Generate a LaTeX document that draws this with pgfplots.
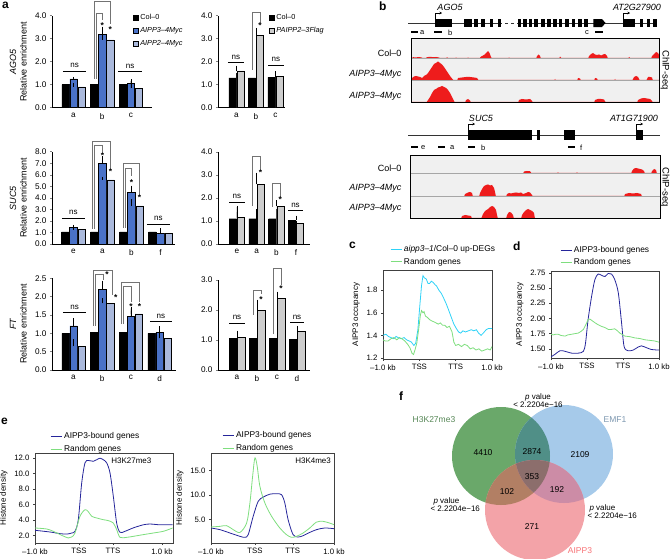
\documentclass[border=0pt]{standalone}
\usepackage{fontspec}
\setmainfont{Liberation Sans}
\usepackage{pgfplots}
\pgfplotsset{compat=1.18}
\usetikzlibrary{arrows.meta}

\newcommand{\fs}[1]{\fontsize{#1}{#1}\selectfont}
\definecolor{c3}{HTML}{4A72C8}
\definecolor{c2}{HTML}{AAB9DC}
\definecolor{cg}{HTML}{CDCDCD}
\definecolor{cyanl}{HTML}{2ED2F7}
\definecolor{greenl}{HTML}{7EDE7E}
\definecolor{navy}{HTML}{25259A}
\definecolor{peak}{HTML}{EE1C1C}
\definecolor{vG}{HTML}{6AA86A}
\definecolor{vB}{HTML}{A6CAEA}
\definecolor{vR}{HTML}{F3A3A8}
\definecolor{vGB}{HTML}{508F87}
\definecolor{vGR}{HTML}{B27F64}
\definecolor{vBR}{HTML}{CC8CA6}
\definecolor{vGBR}{HTML}{8C6E6C}

% significance marks (used inside an axis)
\newcommand{\ns}[3]{\draw[line width=0.7pt] (axis cs:#1,#3) -- node[above=3pt, font=\fs{8}, inner sep=0pt] {ns} (axis cs:#2,#3);}
\newcommand{\brk}[5]{\draw[black!55, line width=0.5pt] (axis cs:#1,#2) |- (axis cs:#3,#5) -- (axis cs:#3,#4);}
\newcommand{\st}[2]{\node[font=\bfseries\fs{8.5}, inner sep=0pt] at (axis cs:#1,#2) {*};}
% exons of the gene models
\newcommand{\exA}[2]{\fill[black] (axis cs:#1,19) rectangle (axis cs:#2,27);}
\newcommand{\exB}[2]{\fill[black] (axis cs:#1,129.5) rectangle (axis cs:#2,139.5);}

\pgfplotsset{
  /pgf/number format/assume math mode=true,
  every axis/.append style={font=\fs{7.5}},
  barax/.style={
    anchor=south west, clip=false, ymin=0,
    axis x line*=bottom, axis y line*=left,
    axis line style={line width=0.5pt},
    tick align=outside, major tick length=2pt,
    xtick style={draw=none}, ytick style={line width=0.5pt},
    tick label style={font=\fs{8.2}},
    yticklabel style={/pgf/number format/.cd, fixed, fixed zerofill, precision=1},
    legend style={draw=none, fill=none, inner sep=0pt, outer sep=0pt, font=\fs{7.3},
      row sep=2.6pt, anchor=north west},
    legend cell align=left,
    legend image code/.code={\draw[line width=0.4pt,##1] (0pt,-2.3pt) rectangle (5pt,2.3pt);},
  },
  bL/.style={ybar, bar width=0.26, draw=black, line width=0.4pt, forget plot,
    error bars/y dir=plus, error bars/y explicit,
    error bars/error bar style={black, line width=0.4pt},
    error bars/error mark options={black, mark size=1.3pt, line width=0.4pt}},
  bR/.style={bL, bar width=0.37},
  lineax/.style={
    anchor=north west, scale only axis, tick pos=left, tick align=outside,
    major tick length=2pt,
    axis line style={black!75, line width=0.4pt},
    tick style={black!75, line width=0.4pt},
    tick label style={font=\fs{7.8}}, label style={font=\fs{8}},
    legend style={draw=none, fill=none, font=\fs{8.4}, anchor=north west,
      inner sep=0pt, row sep=1pt},
    legend cell align=left,
    legend image code/.code={\draw[##1] (0pt,0pt) -- (11pt,0pt);},
    every axis plot/.append style={line width=0.8pt, no marks},
  },
  trk/.style={anchor=south west, x=1pt, y=1pt, ymin=1,
    axis line style={draw=none}, ticks=none,
    axis background/.style={fill=black!6}},
}

\begin{document}
\begin{tikzpicture}
\useasboundingbox (0pt,0pt) rectangle (670pt,-559pt);

% ---------------- panel a, AGO5 ----------------
\begin{axis}[barax, at={(52pt,-107.7pt)}, x=28.7pt, y=23pt, xmin=-0.75, xmax=2.73,
  ymax=4, ytick={0,1,2,3,4}, xtick={0,1,2}, xticklabels={a,b,c},
  legend style={at={(0.81,1.04)}}]
\addlegendimage{fill=black}\addlegendentry{Col–0}
\addlegendimage{fill=c3}\addlegendentry{\textit{AIPP3–4Myc}}
\addlegendimage{fill=c2}\addlegendentry{\textit{AIPP2–4Myc}}
\addplot[bL, fill=black, bar shift=-0.28] coordinates {(0,1.00) +- (0,0.13) (1,1.03) +- (0,0.08) (2,1.02) +- (0,0.15)};
\addplot[bL, fill=c3, bar shift=0] coordinates {(0,1.25) +- (0,0.03) (1,3.20) +- (0,0.27) (2,1.07) +- (0,0.10)};
\addplot[bL, fill=c2, bar shift=0.28] coordinates {(0,0.90) +- (0,0.12) (1,2.95) +- (0,0.30) (2,0.85) +- (0,0.17)};
\ns{-0.37}{0.44}{1.6}
\ns{1.55}{2.39}{1.57}
\brk{0.72}{1.25}{1.28}{3.62}{4.64}
\brk{0.78}{1.25}{1.0}{3.8}{4.1}
\st{1.0}{3.55}
\st{1.28}{3.38}
\end{axis}

\begin{axis}[barax, at={(218pt,-107.7pt)}, x=19.5pt, y=23pt, xmin=-0.95, xmax=2.49,
  ymax=4, ytick={0,1,2,3,4}, xtick={0,1,2}, xticklabels={a,b,c},
  legend style={at={(0.76,1.04)}}]
\addlegendimage{fill=black}\addlegendentry{Col–0}
\addlegendimage{fill=cg}\addlegendentry{\textit{PAIPP2–3Flag}}
\addplot[bR, fill=black, bar shift=-0.205] coordinates {(0,1.30) +- (0,0.15) (1,1.30) +- (0,0.20) (2,1.32) +- (0,0.20)};
\addplot[bR, fill=cg, bar shift=0.205] coordinates {(0,1.60) +- (0,0.17) (1,3.16) +- (0,0.25) (2,1.35) +- (0,0.05)};
\ns{-0.44}{0.38}{1.96}
\ns{1.62}{2.41}{1.86}
\brk{0.8}{1.65}{1.2}{3.7}{4.13}
\st{1.2}{3.55}
\end{axis}

% ---------------- panel a, SUC5 ----------------
\begin{axis}[barax, at={(52pt,-244pt)}, x=29pt, y=11.54pt, xmin=-0.74, xmax=3.5,
  ymax=8, ytick={0,1,...,8}, xtick={0,1,2,3}, xticklabels={e,a,b,f}]
\addplot[bL, fill=black, bar shift=-0.28] coordinates {(0,1.05) +- (0,0.10) (1,1.05) +- (0,0.05) (2,1.05) +- (0,0.10) (3,1.05) +- (0,0.20)};
\addplot[bL, fill=c3, bar shift=0] coordinates {(0,1.45) +- (0,0.10) (1,7.00) +- (0,0.50) (2,4.50) +- (0,0.45) (3,0.90) +- (0,0.05)};
\addplot[bL, fill=c2, bar shift=0.28] coordinates {(0,1.25) +- (0,0.30) (1,5.55) +- (0,0.15) (2,3.30) +- (0,0.45) (3,0.95) +- (0,0.05)};
\ns{-0.4}{0.4}{2.25}
\ns{2.53}{3.33}{1.7}
\brk{0.66}{1.3}{1.28}{6.55}{8.87}
\brk{0.72}{1.3}{1.0}{7.95}{8.6}
\st{1.0}{7.7}
\st{1.28}{6.25}
\brk{1.72}{1.4}{2.28}{4.3}{7.0}
\brk{1.78}{1.4}{2.0}{5.85}{6.56}
\st{2.0}{5.35}
\st{2.28}{4.05}
\end{axis}

\begin{axis}[barax, at={(218pt,-244pt)}, x=19.7pt, y=23pt, xmin=-0.96, xmax=3.7,
  ymax=4, ytick={0,1,2,3,4}, xtick={0,1,2,3}, xticklabels={e,a,b,f}]
\addplot[bR, fill=black, bar shift=-0.205] coordinates {(0,1.10) +- (0,0.50) (1,1.10) +- (0,0.35) (2,1.10) +- (0,0.35) (3,1.03) +- (0,0.15)};
\addplot[bR, fill=cg, bar shift=0.205] coordinates {(0,1.15) +- (0,0.25) (1,2.60) +- (0,0.45) (2,1.65) +- (0,0.20) (3,0.90) +- (0,0.05)};
\ns{-0.4}{0.4}{1.82}
\ns{2.6}{3.35}{1.45}
\brk{0.8}{1.65}{1.2}{3.25}{3.81}
\st{1.2}{3.1}
\brk{1.8}{1.6}{2.2}{2.05}{2.62}
\st{2.2}{1.95}
\end{axis}

% ---------------- panel a, FT ----------------
\begin{axis}[barax, at={(52pt,-370pt)}, x=28.7pt, y=36.7pt, xmin=-0.75, xmax=3.57,
  ymax=2.5, ytick={0,0.5,...,2.5}, xtick={0,1,2,3}, xticklabels={a,b,c,d}]
\addplot[bL, fill=black, bar shift=-0.28] coordinates {(0,1.00) +- (0,0.37) (1,1.03) +- (0,0.08) (2,1.02) +- (0,0.15) (3,1.00) +- (0,0.10)};
\addplot[bL, fill=c3, bar shift=0] coordinates {(0,1.20) +- (0,0.15) (1,2.20) +- (0,0.20) (2,1.47) +- (0,0.15) (3,1.03) +- (0,0.03)};
\addplot[bL, fill=c2, bar shift=0.28] coordinates {(0,0.65) +- (0,0.15) (1,1.82) +- (0,0.10) (2,1.53) +- (0,0.15) (3,0.86) +- (0,0.30)};
\ns{-0.37}{0.44}{1.56}
\ns{2.66}{3.43}{1.32}
\brk{0.68}{1.2}{1.35}{2.05}{2.73}
\brk{0.74}{1.2}{1.05}{2.45}{2.62}
\st{1.17}{2.6}
\st{1.47}{1.96}
\brk{1.68}{1.25}{2.3}{1.86}{2.38}
\brk{1.74}{1.25}{2.0}{1.86}{2.27}
\st{2.0}{1.72}
\st{2.3}{1.74}
\end{axis}

\begin{axis}[barax, at={(218pt,-370pt)}, x=20pt, y=30pt, xmin=-0.95, xmax=3.65,
  ymax=3, ytick={0,1,2,3}, xtick={0,1,2,3}, xticklabels={a,b,c,d}]
\addplot[bR, fill=black, bar shift=-0.205] coordinates {(0,1.05) +- (0,0.17) (1,1.05) +- (0,0.70) (2,1.05) +- (0,0.02) (3,1.03) +- (0,0.10)};
\addplot[bR, fill=cg, bar shift=0.205] coordinates {(0,1.10) +- (0,0.17) (1,2.00) +- (0,0.30) (2,2.40) +- (0,0.17) (3,1.30) +- (0,0.13)};
\ns{-0.4}{0.4}{1.56}
\ns{2.65}{3.35}{1.58}
\brk{0.8}{1.85}{1.2}{2.52}{2.67}
\st{1.2}{2.36}
\brk{1.8}{1.2}{2.2}{2.82}{3.4}
\st{2.2}{2.7}
\end{axis}

% ---------------- panel b, ChIP-seq tracks ----------------
\begin{axis}[trk, at={(411pt,-58pt)}, xmin=411, xmax=659, ymax=20]
\addplot[fill=peak, draw=none] coordinates {(411,0)(413,1.8)(416,1.6)(419,2.0)(422,1.4)(424,0)(427,1.8)(430,2.2)(433,1.8)(436,2.0)(439,1.5)(441,0)(446,0)(447,1.8)(449,0)(455,0)(456,1.6)(458,0)(466,0)(468,1.5)(470,0)(479,0)(481,2.5)(484,4)(486,6)(488,8)(489.5,6)(491,2)(492,0)(508,0)(509,1.6)(511,0)(536,0)(537,3)(538.5,4.5)(540,3)(541,0)(559,0)(560,2.5)(562,0)(588,0)(589,3)(591,5)(593,6)(595,4.5)(597,4)(599,4.5)(601,3.5)(603,4.5)(605,5)(607,3)(608,0)(628,0)(629,2)(631,0)(651,0)(652,3)(654,5)(656,7)(658,6)(659,4)} \closedcycle;
\end{axis}
\begin{axis}[trk, at={(411pt,-80pt)}, xmin=411, xmax=659, ymax=22]
\addplot[fill=peak, draw=none] coordinates {(411,0)(412,3)(414,4.5)(416,5)(418,4.5)(420,4)(422,3)(424,5)(426,6)(428,8)(430,11)(432,14)(434,17)(436,18)(438,19.5)(440,18)(442,16.5)(444,14)(446,11)(448,8)(450,5)(452,2.5)(454,0)(457,0)(458,3)(462,3.5)(466,4)(470,4)(474,3.5)(477,3)(479,0)(554,0)(555,2)(556,0)(577,0)(578,3)(580,2.5)(581,0)(594,0)(595,3)(597,2.5)(598,0)(614,0)(615,2)(616,0)(632,0)(634,4)(636,5)(638,4)(640,0)(646,0)(648,4)(650,4)(652,3.5)(653,0)(659,0)} \closedcycle;
\end{axis}
\begin{axis}[trk, at={(411pt,-102pt)}, xmin=411, xmax=659, ymax=22]
\addplot[fill=peak, draw=none] coordinates {(411,0)(426,0)(428,3)(430,6)(432,10)(434,13)(436,14)(438,15.5)(440,16)(442,17)(444,16)(446,15)(448,13)(450,10)(452,6)(454,2)(455,0)(465,0)(466,3)(468,4)(470,2.5)(471,0)(518,0)(519,3)(522,4)(526,3.5)(530,4)(532,2)(533,0)(594,0)(595,3)(598,4)(601,4)(604,3.5)(606,0)(637,0)(638,3)(641,4.5)(644,5)(647,4.5)(650,4)(652,2)(653,0)(659,0)} \closedcycle;
\end{axis}

\begin{axis}[trk, at={(410pt,-173pt)}, xmin=410, xmax=660, ymax=18]
\addplot[fill=peak, draw=none] coordinates {(523,0)(524,2.5)(527,3)(530,2.8)(532,0)(557,0)(558,1.8)(559,0)(576,0)(577,1.8)(578,0)(631,0)(632,3)(634,5.5)(636,6)(638,5.5)(640,5)(642,4.5)(644,3)(645,0)(651,0)(652,3)(654,5)(656,4)(657,0)} \closedcycle;
\end{axis}
\begin{axis}[trk, at={(410pt,-196pt)}, xmin=410, xmax=660, ymax=23]
\addplot[fill=peak, draw=none] coordinates {(464,0)(465,3)(468,4.5)(470,5)(472,4)(473,0)(479,0)(480,4)(482,8)(484,11)(486,12)(488,12.5)(490,11.5)(492,12)(494,9)(495,5)(496,0)(506,0)(507,3)(509,4)(511,3.5)(513,4)(516,4.5)(519,4)(521,4.5)(523,3)(526,4)(528,5)(530,4.5)(532,2)(533,0)(624,0)(625,3)(629,4)(633,3.5)(637,4)(641,3)(642,0)} \closedcycle;
\end{axis}
\begin{axis}[trk, at={(410pt,-218pt)}, xmin=410, xmax=660, ymax=22]
\addplot[fill=peak, draw=none] coordinates {(461,0)(462,3)(465,4)(468,3.5)(471,3)(472,0)(481,0)(483,5)(485,8)(488,10)(490,12)(492,13)(494,12)(496,9)(497,4)(498,0)(506,0)(507,4)(509,7)(511,6.5)(513,4)(514,0)(521,0)(522,4)(524,7)(526,9)(528,10)(530,9)(532,8)(534,6)(535,0)} \closedcycle;
\end{axis}

% ---------------- panel c ----------------
\begin{axis}[lineax, at={(383pt,-270pt)}, width=109pt, height=89pt,
  xmin=0, xmax=3, ymin=1.19, ymax=1.98,
  xtick={0,1,2,3}, xticklabels={–1.0 kb,TSS,TTS,1.0 kb},
  ytick={1.2,1.4,1.6,1.8},
  yticklabel style={/pgf/number format/.cd, fixed, fixed zerofill, precision=1},
  ylabel={AIPP3 occupancy}, legend style={at={(0.064,1.3)}}]
\addplot[color=cyanl] coordinates {(0.00,1.40)(0.08,1.41)(0.15,1.39)(0.22,1.38)(0.30,1.37)(0.36,1.39)(0.42,1.38)(0.50,1.37)(0.58,1.38)(0.65,1.36)(0.72,1.35)(0.78,1.34)(0.85,1.31)(0.90,1.33)(0.96,1.45)(1.01,1.65)(1.06,1.84)(1.10,1.93)(1.14,1.91)(1.19,1.90)(1.24,1.86)(1.28,1.86)(1.33,1.88)(1.38,1.87)(1.43,1.85)(1.47,1.84)(1.54,1.80)(1.61,1.77)(1.67,1.73)(1.74,1.68)(1.80,1.63)(1.88,1.56)(1.95,1.50)(2.02,1.46)(2.08,1.43)(2.14,1.42)(2.20,1.44)(2.27,1.43)(2.35,1.44)(2.43,1.45)(2.50,1.44)(2.57,1.45)(2.63,1.42)(2.70,1.40)(2.76,1.42)(2.84,1.45)(2.90,1.46)(3.00,1.46)};
\addlegendentry{\textit{aipp3–1}/Col–0 up-DEGs}
\addplot[color=greenl] coordinates {(0.00,1.36)(0.06,1.35)(0.14,1.35)(0.22,1.37)(0.30,1.38)(0.38,1.36)(0.45,1.38)(0.52,1.37)(0.60,1.35)(0.68,1.32)(0.74,1.29)(0.80,1.24)(0.84,1.23)(0.88,1.27)(0.93,1.33)(0.98,1.45)(1.03,1.58)(1.06,1.62)(1.10,1.60)(1.13,1.61)(1.17,1.57)(1.22,1.56)(1.28,1.54)(1.33,1.53)(1.40,1.52)(1.46,1.51)(1.52,1.50)(1.58,1.51)(1.64,1.49)(1.70,1.49)(1.76,1.47)(1.83,1.48)(1.90,1.43)(1.95,1.34)(2.00,1.31)(2.08,1.32)(2.16,1.30)(2.24,1.32)(2.32,1.31)(2.40,1.28)(2.48,1.29)(2.56,1.27)(2.64,1.28)(2.72,1.26)(2.80,1.27)(2.88,1.28)(2.95,1.27)(3.00,1.30)};
\addlegendentry{Random genes}
\end{axis}

% ---------------- panel d ----------------
\begin{axis}[lineax, at={(551pt,-271pt)}, width=108pt, height=87pt,
  xmin=0, xmax=3, ymin=1.35, ymax=2.78,
  xtick={0,1,2,3}, xticklabels={–1.0 kb,TSS,TTS,1.0 kb},
  ytick={1.5,1.75,2,2.25,2.5,2.75},
  yticklabel style={/pgf/number format/.cd, fixed, fixed zerofill, precision=2},
  ylabel={AIPP3 occupancy}, legend style={at={(0.083,1.31)}}]
\addplot[navy, smooth] coordinates {(0,1.37)(0.11,1.41)(0.25,1.47)(0.39,1.46)(0.57,1.43)(0.76,1.43)(0.90,1.46)(0.96,1.60)(1.03,1.98)(1.13,2.37)(1.22,2.64)(1.31,2.73)(1.40,2.71)(1.50,2.69)(1.59,2.74)(1.68,2.73)(1.77,2.64)(1.87,2.42)(1.96,1.93)(2.03,1.54)(2.14,1.47)(2.28,1.48)(2.42,1.53)(2.51,1.55)(2.65,1.52)(2.79,1.49)(3.00,1.48)};
\addlegendentry{AIPP3-bound genes}
\addplot[greenl] coordinates {(0,1.74)(0.06,1.73)(0.13,1.74)(0.20,1.74)(0.28,1.72)(0.39,1.71)(0.47,1.73)(0.57,1.74)(0.66,1.75)(0.76,1.76)(0.84,1.79)(0.90,1.82)(0.97,1.90)(1.03,1.98)(1.08,1.99)(1.15,1.96)(1.22,1.93)(1.30,1.90)(1.40,1.87)(1.50,1.85)(1.59,1.82)(1.68,1.82)(1.77,1.83)(1.84,1.80)(1.91,1.76)(2.05,1.71)(2.20,1.70)(2.33,1.68)(2.47,1.67)(2.60,1.65)(2.74,1.64)(2.88,1.63)(3.00,1.61)};
\addlegendentry{Random genes}
\end{axis}

% ---------------- panel e ----------------
\begin{axis}[lineax, at={(35pt,-453pt)}, width=137.7pt, height=90pt,
  xmin=0, xmax=137.7, ymin=1.05, ymax=12.67,
  xtick={0,44,78,127}, xticklabels={–1.0 kb,TSS,TTS,1.0 kb},
  ytick={2,4,...,12},
  yticklabel style={/pgf/number format/.cd, fixed, fixed zerofill, precision=1},
  ylabel={Histone density}, legend style={at={(0.11,1.25)}, font=\fs{8.4}}]
\addplot[navy, smooth] coordinates {(0,2.69)(15,2.47)(25,2.26)(31.7,2.20)(36.7,2.34)(40,2.56)(43.3,4.06)(46.7,8.8)(50,11.4)(53.3,11.7)(58.3,11.6)(61.7,11.8)(65,12.0)(68.3,11.8)(71.7,11.4)(75,10.1)(78.3,7.1)(81.7,3.6)(85,2.43)(90,2.56)(98.3,3.0)(108.3,3.4)(115,3.5)(125,3.4)(137.7,3.4)};
\addlegendentry{AIPP3-bound genes}
\addplot[greenl, smooth] coordinates {(0,2.99)(11.7,2.86)(18.3,2.56)(26.7,2.04)(33.3,1.70)(36.7,1.83)(40,2.34)(45,4.5)(50,5.35)(53.3,5.1)(56.7,4.5)(61.7,4.28)(68.3,4.06)(73.3,3.94)(78.3,3.63)(81.7,2.77)(85,1.78)(91.7,1.78)(98.3,1.91)(108.3,2.13)(118.3,2.34)(128.3,2.56)(137.7,2.99)};
\addlegendentry{Random genes}
\node[font=\fs{8}] at (rel axis cs:0.70,0.91) {H3K27me3};
\end{axis}

\begin{axis}[lineax, at={(211pt,-453pt)}, width=123pt, height=90pt,
  xmin=0, xmax=123.3, ymin=0.24, ymax=18.6,
  xtick={0,44,82,123.3}, xticklabels={–1.0 kb,TSS,TTS,1.0 kb},
  ytick={5,10,15},
  yticklabel style={/pgf/number format/.cd, fixed, fixed zerofill, precision=1},
  ylabel={Histone density}, legend style={at={(0.09,1.26)}, font=\fs{8.4}}]
\addplot[navy, smooth] coordinates {(0,3.3)(9,2.96)(19,2.28)(29,1.6)(34,1.4)(37.3,1.94)(42.3,5.68)(47.3,8.74)(52.3,9.6)(59,10.2)(65.7,10.3)(70.7,10.1)(74,8.4)(77.3,5.0)(82.3,1.94)(87.3,1.46)(92.3,1.73)(99,2.4)(105.7,2.96)(114,3.3)(123.3,3.16)};
\addlegendentry{AIPP3-bound genes}
\addplot[greenl, smooth] coordinates {(0,3.5)(9,3.64)(15.7,3.78)(22.3,2.96)(29,2.4)(35.7,4.3)(39,8.4)(41.7,13.8)(44,17.6)(46.3,15.9)(49,11.8)(54,8.4)(60.7,5.7)(69,3.3)(75.7,1.94)(80.7,1.4)(85.7,1.6)(92.3,2.28)(99,3.3)(105.7,4.5)(112.3,4.66)(119,4.3)(123.3,3.98)};
\addlegendentry{Random genes}
\node[font=\fs{8}] at (rel axis cs:0.83,0.91) {H3K4me3};
\end{axis}

% ---------------- overlay: letters, gene models, Venn ----------------
\begin{axis}[at={(0pt,0pt)}, anchor=north west, x=1pt, y=1pt, xmin=0, xmax=670,
  ymin=0, ymax=559, y dir=reverse, hide axis, clip=false]
% panel letters
\node[font=\bfseries\fs{12}, anchor=north west, inner sep=0pt] at (axis cs:2,2) {a};
\node[font=\bfseries\fs{12}, anchor=north west, inner sep=0pt] at (axis cs:379,2) {b};
\node[font=\bfseries\fs{12}, anchor=north west, inner sep=0pt] at (axis cs:349,242) {c};
\node[font=\bfseries\fs{12}, anchor=north west, inner sep=0pt] at (axis cs:513,242) {d};
\node[font=\bfseries\fs{12}, anchor=north west, inner sep=0pt] at (axis cs:1,418) {e};
\node[font=\bfseries\fs{12}, anchor=north west, inner sep=0pt] at (axis cs:399,392) {f};
% panel a y labels
\node[rotate=90, font=\itshape\fs{9}] at (axis cs:13,62) {AGO5};
\node[rotate=90, font=\fs{9}] at (axis cs:23.5,62) {Relative enrichment};
\node[rotate=90, font=\itshape\fs{9}] at (axis cs:13,198) {SUC5};
\node[rotate=90, font=\fs{9}] at (axis cs:23.5,198) {Relative enrichment};
\node[rotate=90, font=\itshape\fs{9}] at (axis cs:13,324) {FT};
\node[rotate=90, font=\fs{9}] at (axis cs:23.5,324) {Relative enrichment};
% panel b: AGO5 locus
\draw[black!80, line width=0.9pt] (axis cs:408,23) -- (axis cs:502,23);
\draw[black!80, line width=0.9pt] (axis cs:505,23) -- (axis cs:508,23);
\draw[black!80, line width=0.9pt] (axis cs:511,23) -- (axis cs:514,23);
\draw[black!80, line width=0.9pt] (axis cs:517,23) -- (axis cs:657,23);
\exA{435}{452}\exA{464.3}{471.7}\exA{474.3}{478.3}\exA{481}{485}\exA{490}{493.3}\exA{497.7}{501}
\exA{517.7}{521}\exA{523.3}{526.7}\exA{529}{532.3}\exA{534.3}{538.3}\exA{541}{545}\exA{546.7}{550.7}
\exA{553.3}{557.3}\exA{559}{562.3}\exA{565}{569}\exA{571.7}{575}\exA{578.3}{581.7}\exA{584.3}{588.3}
\exA{623.3}{635}\exA{640}{643.3}\exA{646.7}{650}\exA{653.3}{656.7}
\fill[black] (axis cs:593.3,19) -- (axis cs:602,19) -- (axis cs:605.5,23) -- (axis cs:602,27) -- (axis cs:593.3,27) -- cycle;
\draw[line width=0.6pt, -{Stealth[length=2.5pt,width=2.5pt]}] (axis cs:435,19) -- (axis cs:435,13) -- (axis cs:442,13);
\draw[line width=0.6pt, -{Stealth[length=2.5pt,width=2.5pt]}] (axis cs:623.3,19) -- (axis cs:623.3,13) -- (axis cs:630,13);
\node[font=\itshape\fs{9}] at (axis cs:450,7) {AGO5};
\node[font=\itshape\fs{9}] at (axis cs:637,7) {AT2G27900};
\draw[line width=1.2pt] (axis cs:411,32) -- (axis cs:418,32);
\node[font=\fs{7.5}, anchor=west, inner sep=1pt] at (axis cs:419,32.5) {a};
\draw[line width=1.2pt] (axis cs:434,32) -- (axis cs:441.5,32);
\node[font=\fs{7.5}, anchor=west, inner sep=1pt] at (axis cs:447,32.5) {b};
\draw[line width=1.2pt] (axis cs:595,32) -- (axis cs:603,32);
\node[font=\fs{7.5}, anchor=east, inner sep=1pt] at (axis cs:590,32.5) {c};
% track frames and separators
\draw[black!35, line width=0.4pt] (axis cs:411,58) -- (axis cs:659,58);
\draw[black!35, line width=0.4pt] (axis cs:411,80) -- (axis cs:659,80);
\draw[black, line width=0.6pt] (axis cs:411,38) rectangle (axis cs:659,102);
\node[font=\fs{9}, anchor=east] at (axis cs:405,53) {Col–0};
\node[font=\itshape\fs{9}, anchor=east] at (axis cs:405,74) {AIPP3–4Myc};
\node[font=\itshape\fs{9}, anchor=east] at (axis cs:405,96) {AIPP3–4Myc};
\node[font=\fs{9.5}, rotate=-90] at (axis cs:665,70) {ChIP-seq};
% panel b: SUC5 locus
\draw[black!80, line width=0.9pt] (axis cs:408,135) -- (axis cs:660,135);
\exB{468.3}{532.3}\exB{537.3}{540}\exB{564.3}{574.7}\exB{636}{643.3}
\draw[line width=0.6pt, -{Stealth[length=2.5pt,width=2.5pt]}] (axis cs:468.3,129.5) -- (axis cs:468.3,124) -- (axis cs:475,124);
\draw[line width=0.6pt, -{Stealth[length=2.5pt,width=2.5pt]}] (axis cs:636,129.5) -- (axis cs:636,124) -- (axis cs:643,124);
\node[font=\itshape\fs{9}] at (axis cs:481,118) {SUC5};
\node[font=\itshape\fs{9}] at (axis cs:634,118) {AT1G71900};
\draw[line width=1.2pt] (axis cs:411,147) -- (axis cs:418,147);
\node[font=\fs{7.5}, anchor=west, inner sep=1pt] at (axis cs:420,147.5) {e};
\draw[line width=1.2pt] (axis cs:438,147) -- (axis cs:445,147);
\node[font=\fs{7.5}, anchor=west, inner sep=1pt] at (axis cs:449,147.5) {a};
\draw[line width=1.2pt] (axis cs:468,147) -- (axis cs:475,147);
\node[font=\fs{7.5}, anchor=west, inner sep=1pt] at (axis cs:480,147.5) {b};
\draw[line width=1.2pt] (axis cs:568,147) -- (axis cs:575,147);
\node[font=\fs{7.5}, anchor=west, inner sep=1pt] at (axis cs:579,147.5) {f};
\draw[black!35, line width=0.4pt] (axis cs:410,173) -- (axis cs:660,173);
\draw[black!35, line width=0.4pt] (axis cs:410,196) -- (axis cs:660,196);
\draw[black, line width=0.6pt] (axis cs:410,155) rectangle (axis cs:660,218);
\node[font=\fs{9}, anchor=east] at (axis cs:405,168) {Col–0};
\node[font=\itshape\fs{9}, anchor=east] at (axis cs:405,188) {AIPP3–4Myc};
\node[font=\itshape\fs{9}, anchor=east] at (axis cs:405,208) {AIPP3–4Myc};
\node[font=\fs{9.5}, rotate=-90] at (axis cs:665,187) {ChIP-seq};
% panel f: Venn diagram
\fill[vG] (axis cs:501,456) circle[radius=49];
\fill[vB] (axis cs:564,454) circle[radius=49];
\fill[vR] (axis cs:535,510) circle[radius=50];
\begin{scope}
  \clip (axis cs:501,456) circle[radius=49];
  \fill[vGB] (axis cs:564,454) circle[radius=49];
  \fill[vGR] (axis cs:535,510) circle[radius=50];
\end{scope}
\begin{scope}
  \clip (axis cs:564,454) circle[radius=49];
  \fill[vBR] (axis cs:535,510) circle[radius=50];
\end{scope}
\begin{scope}
  \clip (axis cs:501,456) circle[radius=49];
  \clip (axis cs:564,454) circle[radius=49];
  \fill[vGBR] (axis cs:535,510) circle[radius=50];
\end{scope}
\node[font=\fs{8.5}] at (axis cs:483,453) {4410};
\node[font=\fs{8.5}] at (axis cs:532,452) {2874};
\node[font=\fs{8.5}] at (axis cs:580,455) {2109};
\node[font=\fs{8.5}] at (axis cs:532,477) {353};
\node[font=\fs{8.5}] at (axis cs:507,492) {102};
\node[font=\fs{8.5}] at (axis cs:557,490) {192};
\node[font=\fs{8.5}] at (axis cs:532,527) {271};
\node[font=\fs{8.5}, text=vG!80!black] at (axis cs:434,420) {H3K27me3};
\node[font=\fs{8.5}, text=vB!75!black] at (axis cs:615,420) {EMF1};
\node[font=\fs{8.5}, text=vR!70!red] at (axis cs:580,551) {AIPP3};
\node[font=\fs{8}, align=center] at (axis cs:538,401) {\textit{p} value\\< 2.2204e−16};
\node[font=\fs{8}, align=left, anchor=west] at (axis cs:427,505) {\hspace*{3pt}\textit{p} value\\< 2.2204e−16};
\node[font=\fs{8}, align=left, anchor=west] at (axis cs:584,512) {\hspace*{2pt}\textit{p} value\\< 2.2204e−16};
\end{axis}
\end{tikzpicture}
\end{document}
